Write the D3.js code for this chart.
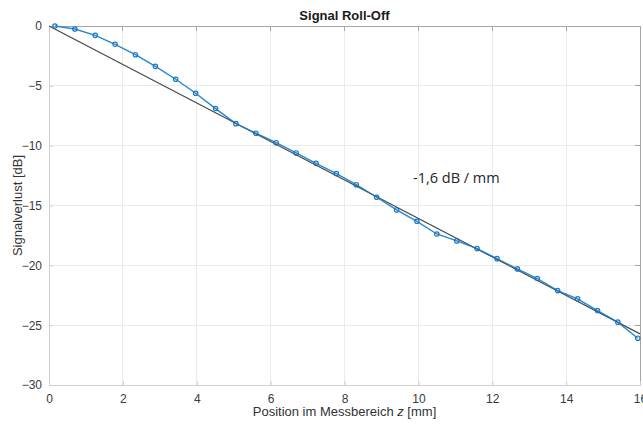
<!DOCTYPE html>
<html>
<head>
<meta charset="utf-8">
<script src="https://cdn.jsdelivr.net/npm/d3@7"></script>
<style>
html,body{margin:0;padding:0;background:#fff;}
svg{display:block;font-family:"Liberation Sans",Arial,sans-serif;}
</style>
</head>
<body>
<svg id="chart" width="643" height="424"></svg>
<script>
// Data
const positions = [0.16,0.70,1.25,1.79,2.34,2.88,3.43,3.97,4.51,5.06,5.60,6.15,6.69,7.23,7.78,8.32,8.87,9.41,9.96,10.50,11.04,11.59,12.13,12.68,13.22,13.77,14.31,14.85,15.40,15.94];
const loss = [0,-0.25,-0.78,-1.53,-2.4,-3.37,-4.45,-5.62,-6.9,-8.16,-8.96,-9.75,-10.61,-11.47,-12.33,-13.26,-14.31,-15.37,-16.32,-17.38,-17.96,-18.6,-19.44,-20.3,-21.1,-22.11,-22.8,-23.78,-24.75,-26.09];
const fitX = [0,16];
const fitY = [0,-25.73];
const xTicks = [0,2,4,6,8,10,12,14,16];
const yTicks = [0,-5,-10,-15,-20,-25,-30];
const title = "Signal Roll-Off";
const annotation = "-1,6 dB / mm";

const svg = d3.select("#chart");
const L = 49, R = 640, T = 26, B = 385;
const x = d3.scaleLinear().domain([0,16]).range([L,R]);
const y = d3.scaleLinear().domain([-30,0]).range([B,T]);

// grid
const g = svg.append("g");
g.selectAll(".vg").data(xTicks.slice(1,-1)).join("line")
  .attr("x1",d=>x(d)).attr("x2",d=>x(d)).attr("y1",T).attr("y2",B)
  .attr("stroke","#ebebeb").attr("stroke-width",1).attr("shape-rendering","crispEdges");
g.selectAll(".hg").data(yTicks.slice(1,-1)).join("line")
  .attr("x1",L).attr("x2",R).attr("y1",d=>y(d)).attr("y2",d=>y(d))
  .attr("stroke","#ebebeb").attr("stroke-width",1).attr("shape-rendering","crispEdges");

// box: top & right
svg.append("line").attr("x1",L).attr("x2",R).attr("y1",T).attr("y2",T).attr("stroke","#a6a6a6").attr("shape-rendering","crispEdges");
svg.append("line").attr("x1",R).attr("x2",R).attr("y1",T).attr("y2",B).attr("stroke","#a6a6a6").attr("shape-rendering","crispEdges");

// axes
const xAxis = d3.axisBottom(x).tickValues(xTicks).tickSizeInner(-4).tickSizeOuter(0).tickPadding(9);
const yAxis = d3.axisLeft(y).tickValues(yTicks).tickSizeInner(-4).tickSizeOuter(0).tickPadding(7);
const gx = svg.append("g").attr("transform",`translate(0,${B})`).call(xAxis);
const gy = svg.append("g").attr("transform",`translate(${L},0)`).call(yAxis);
[gx,gy].forEach(a=>{
  a.select(".domain").attr("stroke","#cfcfcf").attr("shape-rendering","crispEdges");
  a.selectAll(".tick line").attr("stroke","#cfcfcf");
  a.selectAll(".tick text").attr("fill","#3a3a3a").attr("font-size","12px").attr("font-family","'Liberation Sans',Arial,sans-serif");
});
// top/right ticks
svg.append("g").selectAll("line").data(xTicks.slice(1,-1)).join("line")
  .attr("x1",d=>x(d)).attr("x2",d=>x(d)).attr("y1",T).attr("y2",T+5).attr("stroke","#a6a6a6").attr("shape-rendering","crispEdges");
svg.append("g").selectAll("line").data(yTicks.slice(1,-1)).join("line")
  .attr("x1",R-5).attr("x2",R).attr("y1",d=>y(d)).attr("y2",d=>y(d)).attr("stroke","#a6a6a6").attr("shape-rendering","crispEdges");

// fit line
svg.append("line").attr("x1",x(fitX[0])).attr("y1",y(fitY[0])).attr("x2",x(fitX[1])).attr("y2",y(fitY[1]))
  .attr("stroke","#5a5a5a").attr("stroke-width",1.2);

// data line
const pts = positions.map((p,i)=>[p,loss[i]]);
svg.append("path").datum(pts).attr("fill","none").attr("stroke","#2289d5").attr("stroke-width",1.4)
  .attr("d",d3.line().x(d=>x(d[0])).y(d=>y(d[1])));
svg.append("g").selectAll("circle").data(pts).join("circle")
  .attr("cx",d=>x(d[0])).attr("cy",d=>y(d[1])).attr("r",2.2)
  .attr("fill","none").attr("stroke","#1f78c0").attr("stroke-width",1.2);

// fit line overlay darker where overlapping
svg.append("line").attr("x1",x(fitX[0])).attr("y1",y(fitY[0])).attr("x2",x(fitX[1])).attr("y2",y(fitY[1]))
  .attr("stroke","#333").attr("stroke-width",0.6).attr("opacity",0.5);

// texts
svg.append("text").attr("x",(L+R)/2).attr("y",20).attr("text-anchor","middle")
  .attr("font-size","13px").attr("font-weight","bold").attr("fill","#1a1a1a").text(title);
svg.append("text").attr("x",413).attr("y",183).attr("font-size","14.5px").attr("fill","#262626")
  .attr("font-family","'Open Sans','Liberation Sans',sans-serif").text(annotation);
const xl = svg.append("text").attr("x",(L+R)/2).attr("y",416).attr("text-anchor","middle")
  .attr("font-size","13px").attr("fill","#333");
xl.append("tspan").text("Position im Messbereich ");
xl.append("tspan").attr("font-style","italic").text("z");
xl.append("tspan").text(" [mm]");
svg.append("text").attr("transform",`translate(22,${(T+B)/2}) rotate(-90)`).attr("text-anchor","middle")
  .attr("font-size","13px").attr("fill","#333").text("Signalverlust [dB]");
</script>
</body>
</html>
